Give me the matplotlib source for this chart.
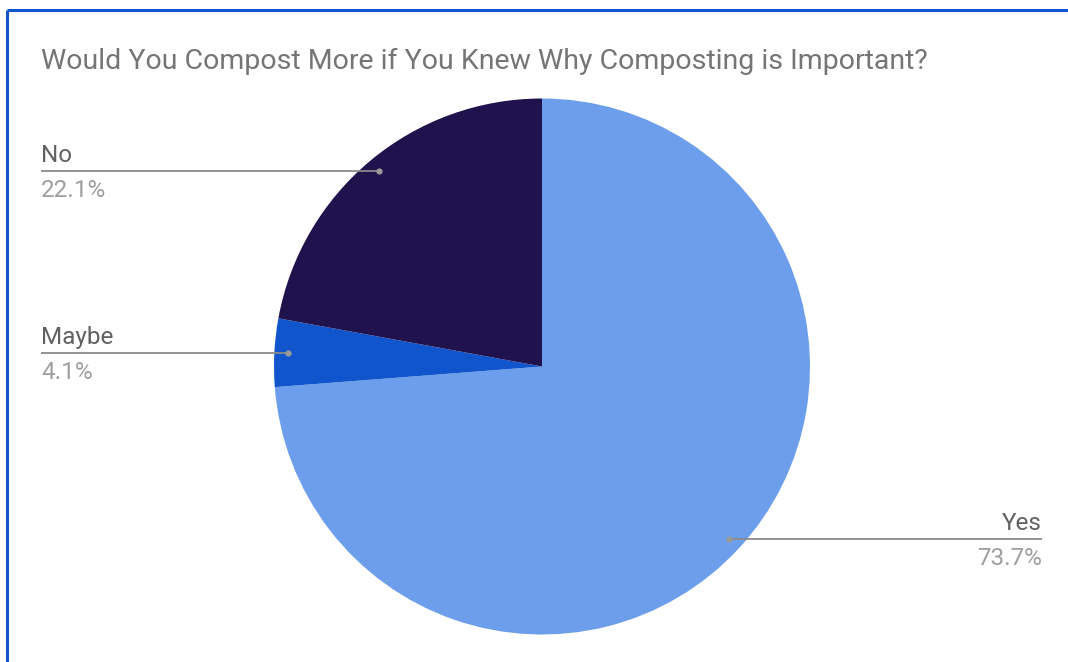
import numpy as np
import matplotlib.pyplot as plt

labels = ["Yes", "Maybe", "No"]
shares = [73.7, 4.1, 22.1]
colors = ["#6d9eeb", "#1155cc", "#20124d"]
pct_text = ["73.7%", "4.1%", "22.1%"]

plt.rcParams['font.family'] = ['Roboto', 'DejaVu Sans']

W, H = 1068, 662
fig = plt.figure(figsize=(W / 100, H / 100), dpi=100)
ax = fig.add_axes([0, 0, 1, 1])

cx, cy, r = 542, 295.5, 268
wedges, _ = ax.pie(shares, colors=colors, startangle=90, counterclock=False,
                   center=(cx, cy), radius=r, frame=True,
                   wedgeprops=dict(linewidth=0))
ax.set_xlim(0, W)
ax.set_ylim(0, H)
ax.set_aspect('equal')
ax.axis('off')

# leader lines + labels
line_col = "#8a8a8a"
for w, lab, pt in zip(wedges, labels, pct_text):
    mid = np.deg2rad((w.theta1 + w.theta2) / 2)
    px = cx + 0.95 * r * np.cos(mid)
    py = cy + 0.95 * r * np.sin(mid)
    if np.cos(mid) < 0:
        x_end, ha = 41, 'left'
    else:
        x_end, ha = 1042, 'right'
    ax.plot([px, x_end], [py, py], color=line_col, lw=1.3, solid_capstyle='butt')
    ax.plot(px, py, 'o', color="#9a9a9a", ms=4.5, mec='none')
    ax.text(x_end, py + 9, lab, ha=ha, va='baseline', fontsize=17.5, color="#616161")
    ax.text(x_end, py - 8, pt, ha=ha, va='top', fontsize=17.5, color="#9e9e9e")

ax.text(41, H - 69, "Would You Compost More if You Knew Why Composting is Important?",
        ha='left', va='baseline', fontsize=20.5, color="#757575")

# blue frame (top and left edges)
ax.plot([7, W], [H - 9.5, H - 9.5], color="#1155cc", lw=2.2, solid_capstyle='butt')
ax.plot([7, 7], [0, H - 9.5], color="#1155cc", lw=2.2, solid_capstyle='butt')

fig.savefig("out.png", dpi=100)
